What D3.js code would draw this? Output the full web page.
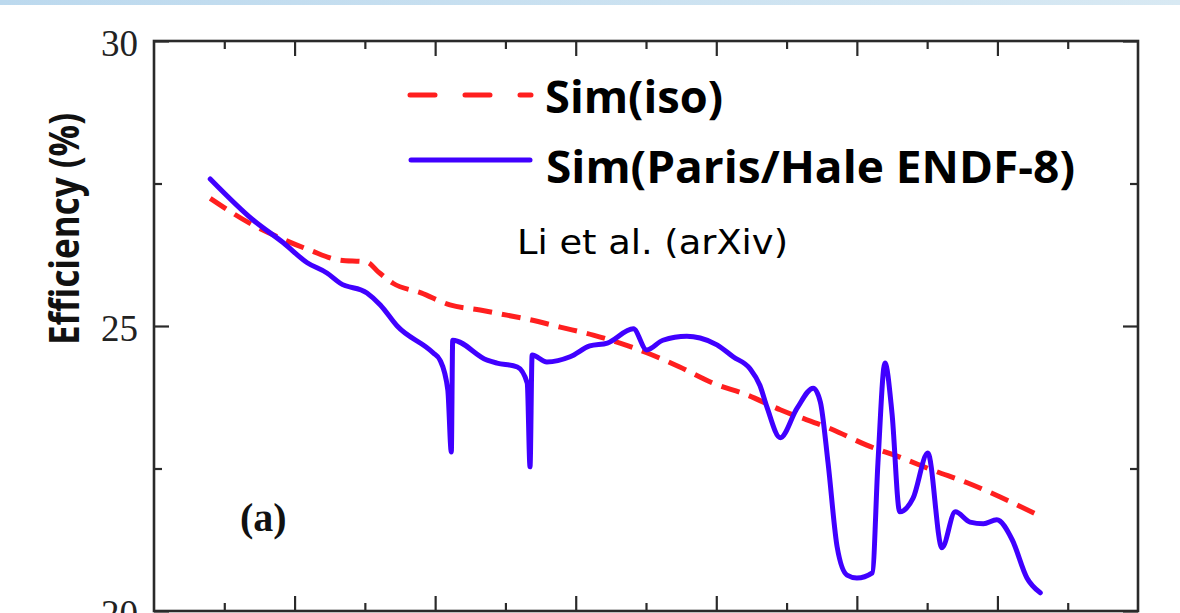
<!DOCTYPE html>
<html>
<head>
<meta charset="utf-8">
<script src="https://cdn.jsdelivr.net/npm/d3@7"></script>
<style>
  html, body { margin: 0; padding: 0; background: #fff; overflow: hidden; }
  svg { display: block; }
</style>
</head>
<body>
<svg id="chart" width="1180" height="613"></svg>
<script>
// Detection efficiency (%) versus x for two simulation models.
const isoX = [0.80, 1.41, 1.82, 2.22, 2.62, 3.03, 3.19, 3.40, 3.80, 4.21, 4.64, 5.02, 5.35, 5.78, 6.25, 6.63, 7.01, 7.48, 7.95, 8.44, 8.91, 9.66, 10.14, 10.61, 11.08, 11.57, 12.04, 12.63];
const isoEff = [27.24, 26.77, 26.53, 26.33, 26.16, 26.12, 25.95, 25.75, 25.58, 25.37, 25.28, 25.19, 25.11, 24.98, 24.84, 24.70, 24.53, 24.28, 24.00, 23.79, 23.53, 23.18, 22.91, 22.70, 22.47, 22.25, 22.00, 21.65];

const parisX = [0.80, 1.41, 1.84, 2.18, 2.46, 2.65, 3.03, 3.22, 3.46, 3.97, 4.07, 4.18, 4.23, 4.25, 4.74, 4.88, 5.17, 5.31, 5.35, 5.38, 5.59, 5.92, 6.20, 6.45, 6.82, 7.01, 7.24, 7.58, 7.77, 8.01, 8.24, 8.48, 8.62, 8.72, 8.91, 9.15, 9.38, 9.48, 9.59, 9.72, 9.86, 10.00, 10.22, 10.30, 10.40, 10.50, 10.61, 10.80, 11.01, 11.21, 11.40, 11.61, 11.80, 11.99, 12.21, 12.42, 12.61];
const parisEff = [27.58, 26.86, 26.46, 26.11, 25.93, 25.75, 25.58, 25.37, 25.00, 24.53, 24.40, 23.88, 22.79, 24.75, 24.40, 24.35, 24.28, 24.00, 22.53, 24.49, 24.37, 24.46, 24.65, 24.70, 24.95, 24.58, 24.75, 24.82, 24.79, 24.67, 24.46, 24.25, 23.96, 23.58, 23.04, 23.56, 23.91, 23.67, 22.60, 21.12, 20.63, 20.58, 20.67, 22.60, 24.35, 23.47, 21.74, 21.98, 22.77, 21.11, 21.74, 21.56, 21.53, 21.60, 21.25, 20.58, 20.32];

const seriesNames = ["Sim(iso)", "Sim(Paris/Hale ENDF-8)"];
const yMajorTicks = [20, 25, 30];
const yMinorTicks = [22.5, 27.5];
const xMajorTicks = [2, 4, 6, 8, 10, 12];
const xMinorTicks = [1, 3, 5, 7, 9, 11, 13];
const yTitle = "Efficiency (%)";
const panelLabel = "(a)";
const sourceNote = "Li et al. (arXiv)";

const svg = d3.select("#chart");

// thin header band
const defs = svg.append("defs");
const grad = defs.append("linearGradient").attr("id", "band").attr("x1", "0%").attr("x2", "100%");
grad.append("stop").attr("offset", "0%").attr("stop-color", "#bcd9ee");
grad.append("stop").attr("offset", "100%").attr("stop-color", "#d8e9f3");
svg.append("rect").attr("x", 0).attr("y", 0).attr("width", 1180).attr("height", 5).attr("fill", "url(#band)");

const plotLeft = 154, plotRight = 1138, plotTop = 41, plotBottom = 611;
const x = d3.scaleLinear().domain([0, 14]).range([plotLeft, plotRight]);
const y = d3.scaleLinear().domain([20, 30]).range([plotBottom, plotTop]);

const axisColor = "#2a2a2a";
function styleAxis(g) {
  g.select(".domain").remove();
  g.selectAll(".tick line").attr("stroke", axisColor).attr("stroke-width", 2.2);
}

// x ticks, inward on bottom and top
svg.append("g").attr("transform", `translate(0,${plotBottom})`)
  .call(d3.axisBottom(x).tickValues(xMajorTicks).tickSize(-15).tickFormat("")).call(styleAxis);
svg.append("g").attr("transform", `translate(0,${plotBottom})`)
  .call(d3.axisBottom(x).tickValues(xMinorTicks).tickSize(-8).tickFormat("")).call(styleAxis);
svg.append("g").attr("transform", `translate(0,${plotTop})`)
  .call(d3.axisTop(x).tickValues(xMajorTicks).tickSize(-15).tickFormat("")).call(styleAxis);
svg.append("g").attr("transform", `translate(0,${plotTop})`)
  .call(d3.axisTop(x).tickValues(xMinorTicks).tickSize(-8).tickFormat("")).call(styleAxis);

// y ticks with labels on the left (the lowest label runs off the bottom edge)
const yAxisG = svg.append("g").attr("transform", `translate(${plotLeft},0)`)
  .call(d3.axisLeft(y).tickValues(yMajorTicks).tickSize(-15).tickPadding(16).tickFormat(d3.format("d")))
  .call(styleAxis);
yAxisG.selectAll(".tick text")
  .attr("font-family", "'Liberation Serif', 'Times New Roman', serif")
  .attr("font-size", 37).attr("fill", "#222").attr("dy", "0.4em");
svg.append("g").attr("transform", `translate(${plotLeft},0)`)
  .call(d3.axisLeft(y).tickValues(yMinorTicks).tickSize(-8).tickFormat("")).call(styleAxis);
svg.append("g").attr("transform", `translate(${plotRight},0)`)
  .call(d3.axisRight(y).tickValues(yMajorTicks).tickSize(-15).tickFormat("")).call(styleAxis);
svg.append("g").attr("transform", `translate(${plotRight},0)`)
  .call(d3.axisRight(y).tickValues(yMinorTicks).tickSize(-8).tickFormat("")).call(styleAxis);

// plot frame
svg.append("rect").attr("x", plotLeft).attr("y", plotTop)
  .attr("width", plotRight - plotLeft).attr("height", plotBottom - plotTop)
  .attr("fill", "none").attr("stroke", axisColor).attr("stroke-width", 2.6);

// series lines
const red = "#ff1f1f", blue = "#4000ff";
const line = d3.line().x(d => x(d[0])).y(d => y(d[1])).curve(d3.curveMonotoneX);

svg.append("path").datum(isoX.map((v, i) => [v, isoEff[i]]))
  .attr("d", line).attr("fill", "none").attr("stroke", red).attr("stroke-width", 5)
  .attr("stroke-dasharray", "19,10");

svg.append("path").datum(parisX.map((v, i) => [v, parisEff[i]]))
  .attr("d", line).attr("fill", "none").attr("stroke", blue).attr("stroke-width", 5)
  .attr("stroke-linejoin", "round").attr("stroke-linecap", "round");

// legend
const legendFont = "'Open Sans', 'Noto Sans', sans-serif";
const legend = svg.append("g");
legend.append("line").attr("x1", 410).attr("x2", 531).attr("y1", 95).attr("y2", 95)
  .attr("stroke", red).attr("stroke-width", 5).attr("stroke-dasharray", "25,30").attr("stroke-linecap", "round");
legend.append("line").attr("x1", 411).attr("x2", 530).attr("y1", 160).attr("y2", 160)
  .attr("stroke", blue).attr("stroke-width", 5).attr("stroke-linecap", "round");
legend.append("text").attr("x", 545).attr("y", 113).text(seriesNames[0])
  .attr("font-family", legendFont).attr("font-weight", 700).attr("font-size", 44).attr("fill", "#000")
  .attr("textLength", 178).attr("lengthAdjust", "spacingAndGlyphs");
legend.append("text").attr("x", 546).attr("y", 183).text(seriesNames[1])
  .attr("font-family", legendFont).attr("font-weight", 700).attr("font-size", 44).attr("fill", "#000")
  .attr("textLength", 529).attr("lengthAdjust", "spacingAndGlyphs");

// source note
svg.append("text").attr("x", 517).attr("y", 254).text(sourceNote)
  .attr("font-family", "'DejaVu Sans', Lato, sans-serif").attr("font-size", 33).attr("fill", "#000")
  .attr("textLength", 271).attr("lengthAdjust", "spacingAndGlyphs");

// panel label
svg.append("text").attr("x", 240).attr("y", 531).text(panelLabel)
  .attr("font-family", "'Liberation Serif', 'Times New Roman', serif").attr("font-weight", 700)
  .attr("font-size", 40).attr("fill", "#111");

// y-axis title
svg.append("text").attr("transform", "translate(79,229) rotate(-90)")
  .attr("text-anchor", "middle").text(yTitle)
  .attr("font-family", legendFont).attr("font-weight", 700).attr("font-size", 42).attr("fill", "#111")
  .attr("textLength", 232).attr("lengthAdjust", "spacingAndGlyphs");
</script>
</body>
</html>
